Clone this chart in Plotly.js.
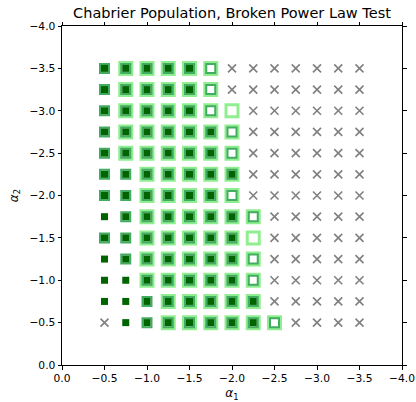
<!DOCTYPE html>
<html>
<head>
<meta charset="utf-8">
<script src="https://cdn.plot.ly/plotly-3.0.1.min.js"></script>
<style>html,body{margin:0;padding:0;background:#fff}#chart{width:416px;height:402px}</style>
</head>
<body>
<div id="chart"></div>
<script>
// Grid of tested slopes
const alpha1 = [-0.5, -0.75, -1.0, -1.25, -1.5, -1.75, -2.0, -2.25, -2.5, -2.75, -3.0, -3.25, -3.5];
const alpha2 = [-0.5, -0.75, -1.0, -1.25, -1.5, -1.75, -2.0, -2.25, -2.5, -2.75, -3.0, -3.25, -3.5];
// Result code per alpha2 row (one char per alpha1 column):
// F = all three tests pass, M = middle + core, C = core only,
// O = outer + middle (open), L = outer only, X = failed
const resultRows = [
  "XCMFFFFFOXXXX", // -0.5
  "CCMFFFFFXXXXX", // -0.75
  "CCFFFFFOXXXXX", // -1.0
  "CMFFFFFOXXXXX", // -1.25
  "MMFFFFFLXXXXX", // -1.5
  "CMFFFFFOXXXXX", // -1.75
  "MMFFFFOXXXXXX", // -2.0
  "MMFFFFFXXXXXX", // -2.25
  "MFFFFFOXXXXXX", // -2.5
  "MFFFFFOXXXXXX", // -2.75
  "MFFFFOLXXXXXX", // -3.0
  "MFFFFOXXXXXXX", // -3.25
  "MFFFFOXXXXXXX"  // -3.5
];
const axisTicks = [0, -0.5, -1.0, -1.5, -2.0, -2.5, -3.0, -3.5, -4.0];

const outer = {x: [], y: []}, middle = {x: [], y: []}, core = {x: [], y: []}, fail = {x: [], y: []};
resultRows.forEach((row, j) => {
  row.split('').forEach((c, i) => {
    const x = alpha1[i], y = alpha2[j];
    if ('FOL'.includes(c)) { outer.x.push(x); outer.y.push(y); }
    if ('FMO'.includes(c)) { middle.x.push(x); middle.y.push(y); }
    if ('FMC'.includes(c)) { core.x.push(x); core.y.push(y); }
    if (c === 'X') { fail.x.push(x); fail.y.push(y); }
  });
});

const traces = [
  {x: outer.x, y: outer.y, type: 'scatter', mode: 'markers', hoverinfo: 'skip',
   marker: {symbol: 'square-open', size: 12, color: 'rgb(144,238,144)', line: {width: 3}}},
  {x: middle.x, y: middle.y, type: 'scatter', mode: 'markers', hoverinfo: 'skip',
   marker: {symbol: 'square-open', size: 9, color: 'rgb(66,172,98)', line: {width: 2}}},
  {x: core.x, y: core.y, type: 'scatter', mode: 'markers', hoverinfo: 'skip',
   marker: {symbol: 'square', size: 7, color: 'rgb(0,100,0)', line: {width: 0}}},
  {x: fail.x, y: fail.y, type: 'scatter', mode: 'markers', hoverinfo: 'skip',
   marker: {symbol: 'x-thin-open', size: 8, color: 'rgb(128,128,128)', line: {width: 1.6}}}
];

const axisCommon = {
  range: [0, -4], tickvals: axisTicks, tickformat: '.1f',
  ticks: 'outside', ticklen: 3.5, tickwidth: 1, tickcolor: '#000',
  showline: true, linecolor: '#000', linewidth: 1, mirror: 'ticks',
  showgrid: false, zeroline: false,
  tickfont: {family: 'DejaVu Sans', size: 10.7, color: '#000'}
};

const layout = {
  width: 416, height: 402,
  margin: {l: 62, r: 14, t: 26, b: 37},
  paper_bgcolor: '#fff', plot_bgcolor: '#fff',
  showlegend: false,
  font: {family: 'DejaVu Sans', color: '#000'},
  title: {text: 'Chabrier Population, Broken Power Law Test', x: 0.5, xref: 'paper',
          y: 1 - 13 / 402, yref: 'container', yanchor: 'middle',
          font: {family: 'DejaVu Sans', size: 14.5, color: '#000'}},
  xaxis: Object.assign({}, axisCommon, {
    title: {text: '<i>α</i><sub>1</sub>', standoff: 4, font: {family: 'DejaVu Sans', size: 12, color: '#000'}}
  }),
  yaxis: Object.assign({}, axisCommon, {
    title: {text: '<i>α</i><sub>2</sub>', standoff: 8, font: {family: 'DejaVu Sans', size: 12, color: '#000'}}
  })
};

Plotly.newPlot('chart', traces, layout, {displayModeBar: false, staticPlot: true});
</script>
</body>
</html>
